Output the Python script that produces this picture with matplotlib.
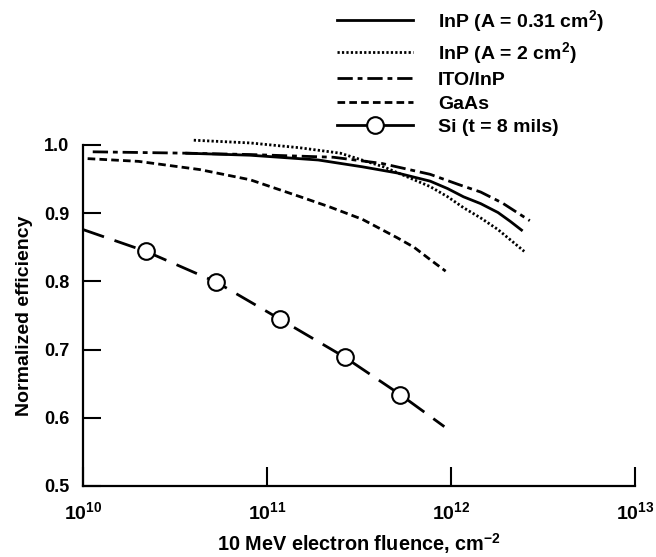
import numpy as np
import matplotlib
matplotlib.use('Agg')
import matplotlib.pyplot as plt
from matplotlib.lines import Line2D

plt.rcParams['font.family'] = ['Liberation Sans', 'DejaVu Sans']
plt.rcParams['mathtext.default'] = 'regular'
plt.rcParams['lines.scale_dashes'] = False

# curves (fluence in cm^-2, normalized efficiency)
inp031_x = [3.6e10, 8.1e10, 1.9e11, 3.3e11, 5.1e11, 7.7e11, 9.6e11, 1.17e12,
            1.45e12, 1.8e12, 2.1e12, 2.45e12]
inp031_y = [0.988, 0.985, 0.978, 0.968, 0.959, 0.947, 0.936, 0.924,
            0.914, 0.901, 0.888, 0.874]

inp2_x = [4.0e10, 8.1e10, 1.5e11, 2.5e11, 4.3e11, 7.7e11, 9.6e11, 1.17e12,
          1.45e12, 1.8e12, 2.1e12, 2.5e12]
inp2_y = [1.007, 1.003, 0.996, 0.988, 0.968, 0.939, 0.924, 0.908,
          0.893, 0.876, 0.861, 0.844]

ito_x = [1.13e10, 3.6e10, 8.1e10, 2.3e11, 4.2e11, 7.7e11, 1.1e12, 1.45e12,
         1.9e12, 2.68e12]
ito_y = [0.990, 0.988, 0.986, 0.982, 0.973, 0.957, 0.942, 0.931,
         0.915, 0.889]

gaas_x = [1.06e10, 2.0e10, 4.3e10, 8.1e10, 1.52e11, 2.2e11, 3.3e11, 5.1e11,
          6.3e11, 7.7e11, 9.35e11]
gaas_y = [0.980, 0.976, 0.964, 0.949, 0.924, 0.909, 0.891, 0.864,
          0.850, 0.832, 0.815]

si_x = [1.0e10, 2.2e10, 5.3e10, 1.17e11, 2.64e11, 5.3e11, 9.2e11]
si_y = [0.876, 0.844, 0.799, 0.745, 0.689, 0.634, 0.587]
si_marks = [1, 2, 3, 4, 5]

labels = ['InP (A = 0.31 cm$^2$)', 'InP (A = 2 cm$^2$)', 'ITO/InP', 'GaAs',
          'Si (t = 8 mils)']
xticks = [1e10, 1e11, 1e12, 1e13]
xticklabels = ['10$^{10}$', '10$^{11}$', '10$^{12}$', '10$^{13}$']
yticks = [0.5, 0.6, 0.7, 0.8, 0.9, 1.0]

fig = plt.figure(figsize=(6.56, 5.57), dpi=100)
ax = fig.add_axes([0.1265, 0.1275, 0.8415, 0.6122])

lw = 2.0
dot = (1.6, 1.6)
dashdot = (11, 3.5, 3.5, 3.5)
dash = (5.5, 3)
ax.plot(inp031_x, inp031_y, color='black', lw=lw, solid_capstyle='butt')
ax.plot(inp2_x, inp2_y, color='black', lw=lw, dashes=dot,
        dash_capstyle='butt', clip_on=False)
ax.plot(ito_x, ito_y, color='black', lw=lw, dashes=dashdot,
        dash_capstyle='butt')
ax.plot(gaas_x, gaas_y, color='black', lw=lw, dashes=dash,
        dash_capstyle='butt')
ax.plot(si_x, si_y, color='black', lw=lw, dashes=(16, 8), dash_capstyle='butt',
        marker='o', markevery=si_marks, markersize=12, markerfacecolor='white',
        markeredgecolor='black', markeredgewidth=1.5)

ax.set_xscale('log')
ax.set_xlim(1e10, 1e13)
ax.set_ylim(0.5, 1.0)
ax.set_xticks(xticks)
ax.set_xticklabels(xticklabels)
ax.set_yticks(yticks)
ax.xaxis.set_minor_locator(matplotlib.ticker.NullLocator())

for s in ['top', 'right']:
    ax.spines[s].set_visible(False)
for s in ['left', 'bottom']:
    ax.spines[s].set_linewidth(1.6)

ax.tick_params(axis='y', direction='in', length=13, width=1.5, pad=10,
               labelsize=13)
ax.tick_params(axis='x', direction='in', length=14, width=1.5, pad=11,
               labelsize=14)
for t in ax.get_xticklabels() + ax.get_yticklabels():
    t.set_fontweight('bold')

ax.set_ylabel('Normalized efficiency', fontsize=14, fontweight='bold', labelpad=8)
ax.set_xlabel('10 MeV electron fluence, cm$^{-2}$', fontsize=14.3,
              fontweight='bold', labelpad=6)

handles = [
    Line2D([], [], color='black', lw=lw),
    Line2D([], [], color='black', lw=lw, dashes=dot),
    Line2D([], [], color='black', lw=lw, dashes=dashdot),
    Line2D([], [], color='black', lw=lw, dashes=dash),
    Line2D([], [], color='black', lw=lw, marker='o', markersize=12,
           markerfacecolor='white', markeredgecolor='black', markeredgewidth=1.5),
]
fig.legend(handles, labels, loc='upper left', bbox_to_anchor=(337 / 656, 1 - 8 / 557),
           frameon=False, prop={'size': 14, 'weight': 'bold'}, handlelength=3.9,
           handletextpad=1.3, labelspacing=0.3, borderpad=0, borderaxespad=0)

fig.savefig('out.png', dpi=100)
